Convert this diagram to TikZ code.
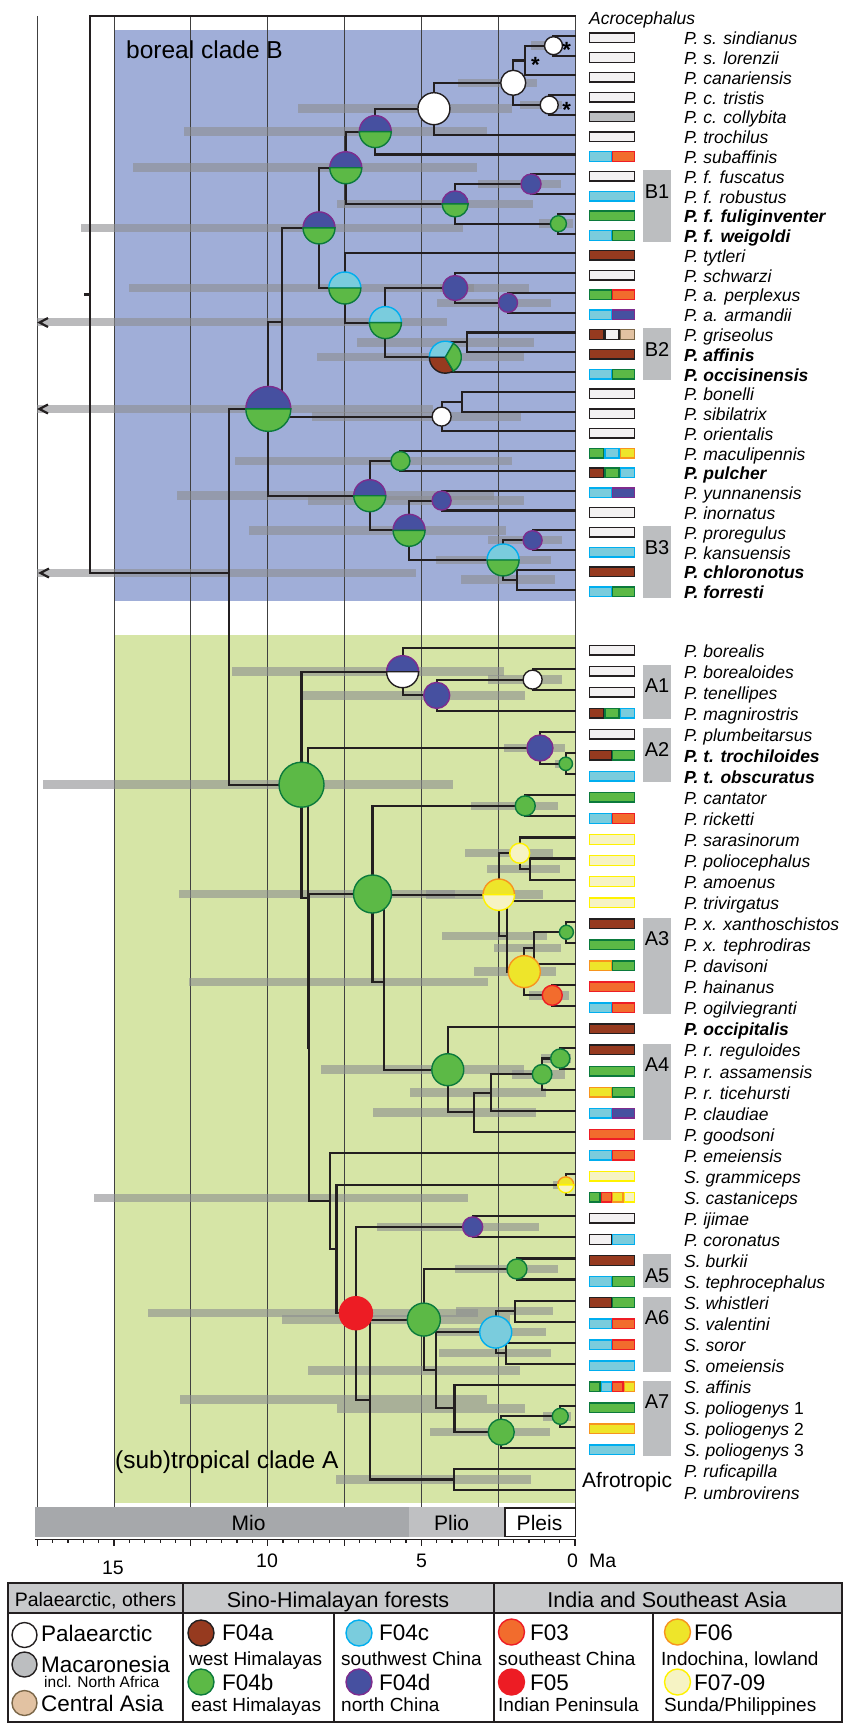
\documentclass[tikz,border=0pt]{standalone}
\usepackage{fontspec}
\setmainfont{Liberation Sans}
\definecolor{ink}{HTML}{231F20}
\definecolor{fV}{HTML}{FFFFFF}\definecolor{dV}{HTML}{231F20}
\definecolor{fW}{HTML}{F3F1F2}\definecolor{dW}{HTML}{231F20}
\definecolor{fK}{HTML}{BCBEC0}\definecolor{dK}{HTML}{231F20}
\definecolor{fB}{HTML}{963A1F}\definecolor{dB}{HTML}{231F20}
\definecolor{fN}{HTML}{5CB946}\definecolor{dN}{HTML}{0B7A3C}
\definecolor{fC}{HTML}{7ACCDD}\definecolor{dC}{HTML}{00AEEF}
\definecolor{fP}{HTML}{4650A0}\definecolor{dP}{HTML}{7E2C8E}
\definecolor{fO}{HTML}{F26C2D}\definecolor{dO}{HTML}{EE1D25}
\definecolor{fY}{HTML}{EEE52A}\definecolor{dY}{HTML}{F7941E}
\definecolor{fL}{HTML}{F6F3C4}\definecolor{dL}{HTML}{FFF200}
\definecolor{fT}{HTML}{E2C2A2}\definecolor{dT}{HTML}{7A6648}
\definecolor{fR}{HTML}{ED1C24}\definecolor{dR}{HTML}{ED1C24}
\definecolor{boreal}{HTML}{A0AED8}
\definecolor{tropic}{HTML}{D6E5A6}
\definecolor{hpd}{HTML}{8C8D90}
\definecolor{cladebox}{HTML}{BCBEC0}
\definecolor{mio}{HTML}{A6A8AB}
\definecolor{plio}{HTML}{BFC0C2}
\definecolor{legh}{HTML}{C8C9CB}
\newcommand\oneC[3]{\filldraw[ncirc,fill=f#3,draw=d#3] (#1) circle[radius=#2pt];}
\newcommand\twoC[4]{%
  \filldraw[ncirc,fill=f#3,draw=d#3] (#1) ++(#2pt,0pt) arc[start angle=0,end angle=180,radius=#2pt] -- cycle;
  \filldraw[ncirc,fill=f#4,draw=d#4] (#1) ++(#2pt,0pt) arc[start angle=0,end angle=-180,radius=#2pt] -- cycle;}
\newcommand\secC[5]{\filldraw[ncirc,fill=f#5,draw=d#5] (#1) -- ++(#3:#2pt) arc[start angle=#3,end angle=#4,radius=#2pt] -- cycle;}
\newcommand\kids[2]{\foreach \q in {#2}{\draw[br] (#1) |- (\q);}}
\newcommand\hpdb[3]{\fill[hpdbar] ({#2},{#1-4.25}) rectangle ({#3},{#1+4.25});}
\newcommand\dist[3]{%
  \foreach \cc [count=\ii] in {#3}{%
    \pgfmathsetmacro\xa{14.7+(\ii-1)*46/#2}%
    \pgfmathsetmacro\xb{13.3+\ii*46/#2}%
    \filldraw[distseg,fill=f\cc,draw=d\cc] ([xshift=\xa pt,yshift=2.8pt]#1) rectangle ([xshift=\xb pt,yshift=-6.8pt]#1);
  }}
\newcommand\clade[3]{%
  \fill[cladefill] ([xshift=68pt,yshift=4pt]#2) rectangle ([xshift=96pt,yshift=-8pt]#3);
  \node[cladelab] (cl#1) at ([xshift=82pt,yshift=-17pt]#2) {#1};}
\begin{document}
\begin{tikzpicture}[x=1pt,y=-1pt,
  br/.style={draw=ink,line width=2.1pt,line cap=rect},
  gridl/.style={draw=black!75,line width=0.9pt},
  hpdbar/.style={fill=hpd,fill opacity=0.6},
  ncirc/.style={line width=1.4pt},
  distseg/.style={line width=1.4pt},
  tiplab/.style={anchor=base west,inner sep=0pt,font=\fontsize{17.5}{18}\selectfont\itshape},
  cladefill/.style={fill=cladebox},
  cladelab/.style={inner sep=0pt,font=\fontsize{20}{22}\selectfont},
  bigtitle/.style={anchor=base west,inner sep=0pt,font=\fontsize{24.5}{26}\selectfont},
  ast/.style={anchor=base,inner sep=0pt,font=\fontsize{22}{22}\selectfont\bfseries},
  axnum/.style={anchor=base,inner sep=0pt,font=\fontsize{19.5}{20}\selectfont},
  era/.style={anchor=base,inner sep=0pt,font=\fontsize{21}{22}\selectfont},
  legline/.style={draw=ink,line width=1.6pt},
  leghead/.style={anchor=base,inner sep=0pt,font=\fontsize{21.5}{22}\selectfont},
  legbig/.style={anchor=base west,inner sep=0pt,font=\fontsize{22.5}{23}\selectfont},
  legsmall/.style={anchor=base west,inner sep=0pt,font=\fontsize{19}{20}\selectfont},
  arrowlt/.style={draw=ink,line width=2.2pt,line join=miter},
  axisl/.style={draw=ink,line width=1.2pt}]
\useasboundingbox (0,0) rectangle (853,1723);
\fill[white] (0,0) rectangle (853,1723);
\fill[boreal] (114,30) rectangle (575,601);
\fill[tropic] (114,635) rectangle (575,1503);

\begin{scope}[shift={(575,0)},x=-30.73pt,y=-1pt]
% grid
\foreach \tm in {0,2.5,5,7.5,10,12.5,15,17.5}{\draw[gridl] (\tm,16) -- (\tm,1507);}
% tips
\foreach \kk in {0,...,29}{\coordinate (tb\kk) at (0,{16+19.78*\kk});}
\foreach \jj in {0,...,40}{\coordinate (ta\jj) at (0,{648+21.05*\jj});}
% clade B nodes
\coordinate (root) at (15.77,294.5);
\coordinate (nR) at (11.27,573);
\coordinate (nB) at (9.98,408.9);
\coordinate (n20) at (9.53,322.2);
\coordinate (n17) at (8.33,227.9);
\coordinate (n10) at (7.46,167.75);
\coordinate (n6) at (6.50,131.6);
\coordinate (n5) at (4.59,108.7);
\coordinate (n4) at (2.01,82.8);
\coordinate (n2) at (1.62,60.5);
\coordinate (n1) at (0.70,45.7);
\coordinate (n3) at (0.84,105);
\coordinate (n9) at (3.90,203.9);
\coordinate (n7) at (1.43,184.1);
\coordinate (n8) at (0.54,223.7);
\coordinate (n16) at (7.49,288);
\coordinate (n15) at (6.17,322.6);
\coordinate (n12) at (3.90,288);
\coordinate (n11) at (2.18,302.8);
\coordinate (n14) at (4.22,357.2);
\coordinate (n13) at (3.51,342.4);
\coordinate (n19) at (4.34,416.6);
\coordinate (n18) at (3.68,401.7);
\coordinate (n27) at (6.68,495.7);
\coordinate (n21) at (5.68,461.05);
\coordinate (n26) at (5.40,530.3);
\coordinate (n22) at (4.34,500.6);
\coordinate (n25) at (2.34,559.95);
\coordinate (n23) at (1.38,540.2);
\coordinate (n24) at (1.88,579.7);
% clade A nodes
\coordinate (nA) at (8.90,784.7);
\coordinate (a3) at (5.61,671.7);
\coordinate (a2) at (4.50,695.4);
\coordinate (a1) at (1.38,679.6);
\coordinate (a39) at (8.69,897.8);
\coordinate (a5) at (1.14,748);
\coordinate (a4) at (0.30,763.8);
\coordinate (a38) at (8.66,1047.5);
\coordinate (a21) at (6.59,894);
\coordinate (a6) at (1.62,805.9);
\coordinate (a20) at (6.21,982.2);
\coordinate (a14) at (2.48,894.7);
\coordinate (a8) at (1.80,853.2);
\coordinate (a7) at (1.46,869);
\coordinate (a13) at (2.22,936.1);
\coordinate (a12) at (1.65,971.6);
\coordinate (a10) at (1.32,948);
\coordinate (a9) at (0.28,932.2);
\coordinate (a11) at (0.74,995.3);
\coordinate (a19) at (4.14,1069.7);
\coordinate (a18) at (3.30,1112.4);
\coordinate (a17) at (2.72,1092.7);
\coordinate (a16) at (1.07,1074.3);
\coordinate (a15) at (0.48,1058.5);
\coordinate (a37) at (7.97,1201.1);
\coordinate (a36) at (7.76,1249);
\coordinate (a22) at (0.30,1184.8);
\coordinate (a35) at (7.13,1313.2);
\coordinate (a23) at (3.33,1226.9);
\coordinate (a34) at (6.68,1399.6);
\coordinate (a32) at (4.92,1319.6);
\coordinate (a24) at (1.89,1269);
\coordinate (a31) at (4.52,1370.3);
\coordinate (a27) at (2.58,1332.1);
\coordinate (a25) at (1.94,1311.1);
\coordinate (a26) at (2.24,1353.2);
\coordinate (a30) at (3.92,1408.4);
\coordinate (a29) at (2.40,1432.1);
\coordinate (a28) at (0.48,1416.3);
\coordinate (a33) at (3.93,1479.5);
% HPD bars
\hpdb{45.7}{1.44}{0.42}\hpdb{82.8}{3.80}{1.24}\hpdb{105}{1.80}{0.42}
\hpdb{108.7}{9.02}{2.04}\hpdb{131.6}{12.71}{2.88}\hpdb{167.7}{14.39}{3.18}
\hpdb{184.1}{3.15}{0.44}\hpdb{203.9}{7.76}{1.38}\hpdb{223.7}{1.16}{0.08}
\hpdb{227.9}{16.09}{3.66}\hpdb{288}{14.51}{3.30}\hpdb{288}{4.38}{1.50}
\hpdb{302.8}{4.50}{0.78}\hpdb{322.2}{17.5}{4.17}\hpdb{342.4}{7.11}{1.32}
\hpdb{357.2}{8.39}{1.65}\hpdb{408.9}{17.5}{4.62}\hpdb{416.6}{8.57}{1.76}
\hpdb{461.1}{11.06}{2.06}\hpdb{495.7}{12.95}{2.64}\hpdb{500.6}{8.69}{1.67}
\hpdb{530.3}{10.61}{2.25}\hpdb{540.2}{2.82}{0.42}\hpdb{560}{4.53}{0.78}
\hpdb{579.7}{3.72}{0.66}\hpdb{573}{17.5}{5.16}
\hpdb{671.7}{11.15}{2.30}\hpdb{679.6}{2.84}{0.42}\hpdb{695.4}{8.96}{1.62}
\hpdb{748}{2.30}{0.34}\hpdb{763.8}{0.66}{0.12}\hpdb{784.7}{17.31}{3.96}
\hpdb{805.9}{3.38}{0.54}\hpdb{853.2}{3.57}{0.70}\hpdb{869}{2.88}{0.50}
\hpdb{894}{12.89}{3.9}\hpdb{894.7}{4.86}{1.04}\hpdb{936.1}{4.32}{0.92}
\hpdb{948}{2.64}{0.46}\hpdb{971.6}{3.30}{0.62}\hpdb{982.2}{12.57}{2.84}
\hpdb{995.3}{1.50}{0.18}\hpdb{1058.5}{1.10}{0.12}\hpdb{1069.7}{8.25}{1.65}
\hpdb{1074.3}{2.06}{0.34}\hpdb{1092.7}{5.36}{0.96}\hpdb{1112.4}{6.57}{1.28}
\hpdb{1184.8}{0.72}{0.06}\hpdb{1198}{15.65}{3.48}\hpdb{1226.9}{6.45}{1.18}
\hpdb{1269}{3.90}{0.54}\hpdb{1311.1}{3.86}{0.72}\hpdb{1313.2}{13.89}{3.15}
\hpdb{1319.6}{9.53}{2.12}\hpdb{1332.1}{4.50}{0.96}\hpdb{1353.2}{4.41}{0.78}
\hpdb{1370.3}{8.69}{1.80}\hpdb{1399.6}{12.84}{2.88}\hpdb{1408.4}{7.76}{1.64}
\hpdb{1416.3}{1.04}{0.12}\hpdb{1432.1}{4.71}{0.82}\hpdb{1479.5}{7.78}{1.44}
% branches
\draw[br] (root) -- ++(-5pt,0pt);
\kids{root}{tb0,nR}\kids{nR}{nB,nA}\kids{nB}{n20,n27}\kids{n20}{n17,n19}
\kids{n17}{n10,n16}\kids{n10}{n6,n9}\kids{n6}{n5,tb7}\kids{n5}{n4,tb6}
\kids{n4}{n2,n3}\kids{n2}{n1,tb3}\kids{n1}{tb1,tb2}\kids{n3}{tb4,tb5}
\kids{n9}{n7,n8}\kids{n7}{tb8,tb9}\kids{n8}{tb10,tb11}
\kids{n16}{tb12,n15}\kids{n15}{n12,n14}\kids{n12}{tb13,n11}\kids{n11}{tb14,tb15}
\kids{n14}{n13,tb18}\kids{n13}{tb16,tb17}\kids{n19}{n18,tb21}\kids{n18}{tb19,tb20}
\kids{n27}{n21,n26}\kids{n21}{tb22,tb23}\kids{n26}{n22,n25}\kids{n22}{tb24,tb25}
\kids{n25}{n23,n24}\kids{n23}{tb26,tb27}\kids{n24}{tb28,tb29}
\kids{nA}{a3,a39}\kids{a3}{ta0,a2}\kids{a2}{a1,ta3}\kids{a1}{ta1,ta2}
\kids{a39}{a5,a38}\kids{a5}{ta4,a4}\kids{a4}{ta5,ta6}
\kids{a38}{a21,a37}\kids{a21}{a6,a20}\kids{a6}{ta7,ta8}
\kids{a20}{a14,a19}\kids{a14}{a8,a13}\kids{a8}{ta9,a7}\kids{a7}{ta10,ta11}
\kids{a13}{ta12,a12}\kids{a12}{a10,a11}\kids{a10}{a9,ta15}\kids{a9}{ta13,ta14}
\kids{a11}{ta16,ta17}\kids{a19}{ta18,a18}\kids{a18}{a17,ta23}\kids{a17}{a16,ta22}
\kids{a16}{a15,ta21}\kids{a15}{ta19,ta20}
\kids{a37}{ta24,a36}\kids{a36}{a22,a35}\kids{a22}{ta25,ta26}
\kids{a35}{a23,a34}\kids{a23}{ta27,ta28}\kids{a34}{a32,a33}
\kids{a32}{a24,a31}\kids{a24}{ta29,ta30}\kids{a31}{a27,a30}
\kids{a27}{a25,a26}\kids{a25}{ta31,ta32}\kids{a26}{ta33,ta34}
\kids{a30}{ta35,a29}\kids{a29}{a28,ta38}\kids{a28}{ta36,ta37}\kids{a33}{ta39,ta40}
% node pies
\oneC{n1}{9}{V}\oneC{n3}{9}{V}\oneC{n4}{12.5}{V}\oneC{n5}{16}{V}
\twoC{n6}{16}{P}{N}\oneC{n7}{10}{P}\oneC{n8}{8}{N}\twoC{n9}{13}{P}{N}
\twoC{n10}{16}{P}{N}\oneC{n11}{9.5}{P}\oneC{n12}{12.5}{P}
\secC{n14}{16}{60}{180}{C}\secC{n14}{16}{180}{300}{B}\secC{n14}{16}{-60}{60}{N}
\twoC{n15}{16}{C}{N}\twoC{n16}{16}{C}{N}\twoC{n17}{16}{P}{N}
\oneC{n19}{9.5}{V}\oneC{n21}{9.5}{N}\oneC{n22}{9.5}{P}\oneC{n23}{9.5}{P}
\twoC{n25}{16}{C}{N}\twoC{n26}{16}{P}{N}\twoC{n27}{16}{P}{N}\twoC{nB}{22.5}{P}{N}
\oneC{a1}{9.5}{V}\oneC{a2}{13}{P}\twoC{a3}{16}{P}{V}\oneC{a4}{6.7}{N}
\oneC{a5}{13}{P}\oneC{a6}{10}{N}\oneC{a8}{10}{L}\oneC{a9}{7}{N}
\oneC{a11}{10}{O}\oneC{a12}{16}{Y}\twoC{a14}{15.7}{Y}{L}\oneC{a15}{9.6}{N}
\oneC{a16}{9.8}{N}\oneC{a19}{16}{N}\oneC{a21}{19}{N}\twoC{a22}{8}{Y}{L}
\oneC{a23}{10}{P}\oneC{a24}{10}{N}\oneC{a27}{16}{C}\oneC{a28}{8}{N}
\oneC{a29}{13}{N}\oneC{a32}{16.5}{N}\oneC{a35}{16.5}{R}\oneC{nA}{22.5}{N}
\end{scope}

% open-ended HPD markers
\draw[arrowlt] (48,318) -- (39.5,322.5) -- (48,327);
\draw[arrowlt] (48,404.5) -- (39.5,409) -- (48,413.5);
\draw[arrowlt] (49,568.5) -- (40.5,573) -- (49,577.5);
% asterisks
\node[ast] (as1) at (566.6,58) {*};
\node[ast] (as2) at (535.3,73) {*};
\node[ast] (as3) at (566.6,117.5) {*};
% clade titles
\node[bigtitle] (titB) at (126,59) {boreal clade B};
\node[bigtitle] (titA) at (115,1468) {(sub)tropical clade A};

% clade bars
\clade{B1}{tb8}{tb11}\clade{B2}{tb16}{tb18}\clade{B3}{tb26}{tb29}
\clade{A1}{ta1}{ta3}\clade{A2}{ta4}{ta6}\clade{A3}{ta13}{ta17}\clade{A4}{ta19}{ta23}
\clade{A5}{ta29}{ta30}\clade{A6}{ta31}{ta34}\clade{A7}{ta35}{ta38}

% distribution boxes
\dist{tb1}{1}{W}\dist{tb2}{1}{W}\dist{tb3}{1}{W}\dist{tb4}{1}{W}\dist{tb5}{1}{K}
\dist{tb6}{1}{W}\dist{tb7}{2}{C,O}\dist{tb8}{1}{W}\dist{tb9}{1}{C}\dist{tb10}{1}{N}
\dist{tb11}{2}{C,N}\dist{tb12}{1}{B}\dist{tb13}{1}{W}\dist{tb14}{2}{N,O}\dist{tb15}{2}{C,P}
\dist{tb16}{3}{B,W,T}\dist{tb17}{1}{B}\dist{tb18}{2}{C,N}\dist{tb19}{1}{W}\dist{tb20}{1}{W}
\dist{tb21}{1}{W}\dist{tb22}{3}{N,C,Y}\dist{tb23}{3}{B,N,C}\dist{tb24}{2}{C,P}\dist{tb25}{1}{W}
\dist{tb26}{1}{W}\dist{tb27}{1}{C}\dist{tb28}{1}{B}\dist{tb29}{2}{C,N}
\dist{ta0}{1}{W}\dist{ta1}{1}{W}\dist{ta2}{1}{W}\dist{ta3}{3}{B,N,C}\dist{ta4}{1}{W}
\dist{ta5}{2}{B,N}\dist{ta6}{1}{C}\dist{ta7}{1}{N}\dist{ta8}{2}{C,O}\dist{ta9}{1}{L}
\dist{ta10}{1}{L}\dist{ta11}{1}{L}\dist{ta12}{1}{L}\dist{ta13}{1}{B}\dist{ta14}{1}{N}
\dist{ta15}{2}{Y,N}\dist{ta16}{1}{O}\dist{ta17}{2}{C,O}\dist{ta18}{1}{B}\dist{ta19}{1}{B}
\dist{ta20}{1}{N}\dist{ta21}{2}{Y,N}\dist{ta22}{2}{C,P}\dist{ta23}{1}{O}\dist{ta24}{2}{C,O}
\dist{ta25}{1}{L}\dist{ta26}{4}{N,O,Y,L}\dist{ta27}{1}{W}\dist{ta28}{2}{W,C}\dist{ta29}{1}{B}
\dist{ta30}{2}{C,N}\dist{ta31}{2}{B,N}\dist{ta32}{2}{C,O}\dist{ta33}{2}{C,O}\dist{ta34}{1}{C}
\dist{ta35}{4}{N,C,O,Y}\dist{ta36}{1}{N}\dist{ta37}{1}{Y}\dist{ta38}{1}{C}

% tip labels
\node[tiplab] (lb0) at ([xshift=14pt,yshift=-9pt]tb0) {Acrocephalus};
\foreach \kk/\lab in {1/{P. s. sindianus},2/{P. s. lorenzii},3/{P. canariensis},4/{P. c. tristis},
 5/{P. c. collybita},6/{P. trochilus},7/{P. subaffinis},8/{P. f. fuscatus},9/{P. f. robustus},
 10/{\bfseries P. f. fuliginventer},11/{\bfseries P. f. weigoldi},12/{P. tytleri},13/{P. schwarzi},
 14/{P. a. perplexus},15/{P. a. armandii},16/{P. griseolus},17/{\bfseries P. affinis},
 18/{\bfseries P. occisinensis},19/{P. bonelli},20/{P. sibilatrix},21/{P. orientalis},
 22/{P. maculipennis},23/{\bfseries P. pulcher},24/{P. yunnanensis},25/{P. inornatus},
 26/{P. proregulus},27/{P. kansuensis},28/{\bfseries P. chloronotus},29/{\bfseries P. forresti}}
 {\node[tiplab] (lb\kk) at ([xshift=109pt,yshift=-9pt]tb\kk) {\lab};}
\foreach \jj/\lab in {0/{P. borealis},1/{P. borealoides},2/{P. tenellipes},3/{P. magnirostris},
 4/{P. plumbeitarsus},5/{\bfseries P. t. trochiloides},6/{\bfseries P. t. obscuratus},7/{P. cantator},
 8/{P. ricketti},9/{P. sarasinorum},10/{P. poliocephalus},11/{P. amoenus},12/{P. trivirgatus},
 13/{P. x. xanthoschistos},14/{P. x. tephrodiras},15/{P. davisoni},16/{P. hainanus},
 17/{P. ogilviegranti},18/{\bfseries P. occipitalis},19/{P. r. reguloides},20/{P. r. assamensis},
 21/{P. r. ticehursti},22/{P. claudiae},23/{P. goodsoni},24/{P. emeiensis},25/{S. grammiceps},
 26/{S. castaniceps},27/{P. ijimae},28/{P. coronatus},29/{S. burkii},30/{S. tephrocephalus},
 31/{S. whistleri},32/{S. valentini},33/{S. soror},34/{S. omeiensis},35/{S. affinis},
 36/{S. poliogenys \textup{1}},37/{S. poliogenys \textup{2}},38/{S. poliogenys \textup{3}},
 39/{P. ruficapilla},40/{P. umbrovirens}}
 {\node[tiplab] (la\jj) at ([xshift=109pt,yshift=-9pt]ta\jj) {\lab};}
\node[anchor=base west,inner sep=0pt,font=\fontsize{21}{22}\selectfont] (afro) at (582,1487.5) {Afrotropic};

% time axis
\fill[mio] (35,1507) rectangle (409,1537);
\fill[plio] (409,1507) rectangle (504,1537);
\draw[ink,line width=1.5pt,fill=white] (504.75,1507.75) rectangle (575.25,1536.25);
\node[era] (eMio) at (248.6,1530.3) {Mio};
\node[era] (ePlio) at (451.6,1530.3) {Plio};
\node[era] (ePleis) at (539.5,1530.3) {Pleis};
\draw[axisl] (35,1539.5) -- (576,1539.5);
\foreach \ii in {0,...,35}{\draw[axisl] ({575-15.365*\ii},1539.5) -- ++(0,3.5);}
\foreach \ii in {0,...,7}{\draw[axisl] ({575-76.825*\ii},1539.5) -- ++(0,6.5);}
\node[axnum] (ax15) at (113,1574) {15};
\node[axnum] (ax10) at (267,1567) {10};
\node[axnum] (ax5) at (421.5,1567) {5};
\node[axnum] (ax0) at (572.5,1567) {0};
\node[axnum,anchor=base west] (axMa) at (589,1567) {Ma};

% legend
\fill[legh] (8,1583) rectangle (842,1613);
\draw[legline] (8,1583) rectangle (842,1722);
\draw[legline] (8,1613) -- (842,1613);
\draw[legline] (183,1583) -- (183,1722);
\draw[legline] (494,1583) -- (494,1722);
\draw[legline] (334,1613) -- (334,1722);
\draw[legline] (653,1613) -- (653,1722);
\node[leghead,font=\fontsize{19.5}{20}\selectfont] (hd1) at (95.5,1606.5) {Palaearctic, others};
\node[leghead] (hd2) at (338,1607) {Sino-Himalayan forests};
\node[leghead] (hd3) at (667,1607) {India and Southeast Asia};
\coordinate (kW) at (24.5,1635); \oneC{kW}{12.5}{V}
\node[legbig] (lW) at (41,1641.5) {Palaearctic};
\coordinate (kK) at (24.5,1664.5); \oneC{kK}{12.5}{K}
\node[legbig] (lK) at (41,1672) {Macaronesia};
\node[anchor=base west,inner sep=0pt,font=\fontsize{15.5}{16}\selectfont] (lK2) at (44,1687.5) {incl. North Africa};
\coordinate (kT) at (24.5,1703); \oneC{kT}{12.5}{T}
\node[legbig] (lT) at (41,1711) {Central Asia};
\coordinate (kB) at (201,1633); \oneC{kB}{13}{B}
\node[legbig] (lB) at (222,1640.5) {F04a};
\node[legsmall] (lB2) at (189,1665) {west Himalayas};
\coordinate (kN) at (201,1682); \oneC{kN}{13}{N}
\node[legbig] (lN) at (222,1690) {F04b};
\node[legsmall] (lN2) at (191,1711) {east Himalayas};
\coordinate (kC) at (359,1633); \oneC{kC}{13}{C}
\node[legbig] (lC) at (379,1640.5) {F04c};
\node[legsmall] (lC2) at (341,1665) {southwest China};
\coordinate (kP) at (359,1682); \oneC{kP}{13}{P}
\node[legbig] (lP) at (379,1690) {F04d};
\node[legsmall] (lP2) at (341,1711) {north China};
\coordinate (kO) at (511.5,1632); \oneC{kO}{13}{O}
\node[legbig] (lO) at (530,1640) {F03};
\node[legsmall] (lO2) at (498,1665) {southeast China};
\coordinate (kR) at (511.5,1682); \oneC{kR}{13}{R}
\node[legbig] (lR) at (530,1690) {F05};
\node[legsmall] (lR2) at (498,1711) {Indian Peninsula};
\coordinate (kY) at (677.5,1632); \oneC{kY}{13}{Y}
\node[legbig] (lY) at (694,1640) {F06};
\node[legsmall] (lY2) at (661,1665) {Indochina, lowland};
\coordinate (kL) at (677.5,1682); \oneC{kL}{13}{L}
\node[legbig] (lL) at (694,1690) {F07-09};
\node[legsmall] (lL2) at (664,1711) {Sunda/Philippines};
\end{tikzpicture}
\end{document}
